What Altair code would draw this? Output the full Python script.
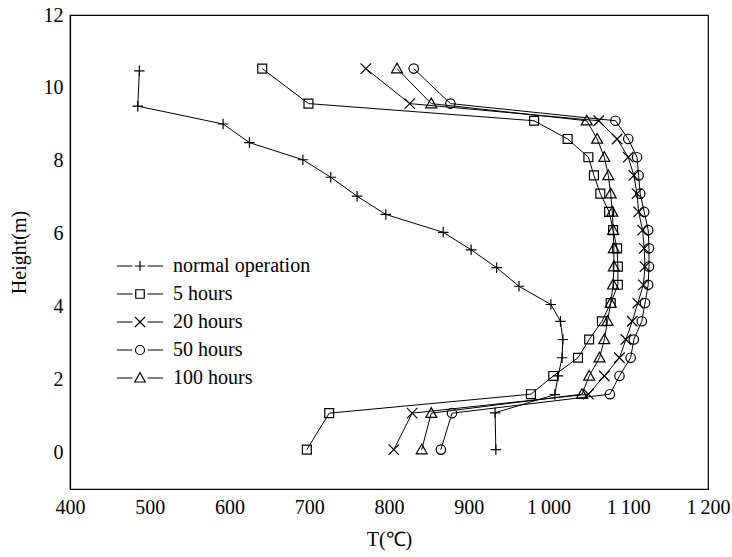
import altair as alt
import pandas as pd

series_names = ["normal operation", "5 hours", "20 hours", "50 hours", "100 hours"]

heights_normal = [0.08, 1.09, 1.59, 2.1, 2.6, 3.1, 3.6, 4.06, 4.56, 5.07, 5.56, 6.04, 6.53, 7.03, 7.55, 8.03, 8.5, 9.01, 9.5, 10.47]
heights_heated = [0.08, 1.08, 1.6, 2.1, 2.6, 3.1, 3.6, 4.1, 4.6, 5.1, 5.6, 6.1, 6.6, 7.1, 7.6, 8.1, 8.6, 9.1, 9.57, 10.53]

t_normal = [934, 933, 1008, 1012, 1017, 1018, 1015, 1003, 963, 935, 903, 868, 796, 760, 727, 692, 625, 592, 485, 487]
t_5h = [697, 725, 978, 1006, 1037, 1051, 1067, 1078, 1087, 1087, 1086, 1081, 1076, 1065, 1057, 1050, 1024, 982, 699, 641]
t_20h = [806, 829, 1050, 1070, 1089, 1097, 1105, 1112, 1119, 1121, 1120, 1118, 1113, 1111, 1107, 1100, 1086, 1063, 826, 771]
t_50h = [865, 879, 1077, 1089, 1103, 1107, 1117, 1121, 1125, 1126, 1126, 1125, 1120, 1115, 1113, 1111, 1100, 1084, 877, 831]
t_100h = [841, 853, 1042, 1051, 1064, 1070, 1074, 1078, 1081, 1082, 1082, 1081, 1080, 1078, 1075, 1070, 1061, 1048, 853, 810]

x_ticks = [400, 500, 600, 700, 800, 900, 1000, 1100, 1200]
y_ticks = [0, 2, 4, 6, 8, 10, 12]

rows = []
for name, temps in zip(series_names, [t_normal, t_5h, t_20h, t_50h, t_100h]):
    hs = heights_normal if name == "normal operation" else heights_heated
    for i, (t, h) in enumerate(zip(temps, hs)):
        rows.append({"series": name, "T": t, "H": h, "idx": i})
df = pd.DataFrame(rows)

# marker paths (unit box)
p_plus = "M-1,0L1,0M0,-1L0,1"
p_square = "M-0.85,-0.85L0.85,-0.85L0.85,0.85L-0.85,0.85Z"
p_cross = "M-1,-1L1,1M-1,1L1,-1"
p_circle = "M0.9,0A0.9,0.9,0,1,1,-0.9,0A0.9,0.9,0,1,1,0.9,0Z"
p_tri = "M0,-1.05L1.05,0.8L-1.05,0.8Z"
marker_paths = [p_plus, p_square, p_cross, p_circle, p_tri]
seg = "M-4.6,0L-1.5,0M1.5,0L4.6,0"
legend_paths = [seg + p for p in marker_paths]

FONT = "Liberation Serif"

x_enc = alt.X("T:Q", scale=alt.Scale(domain=[400, 1200], nice=False, zero=False),
              axis=alt.Axis(values=x_ticks, title="T(℃)", labelFlush=False,
                            labelExpr="datum.value >= 1000 ? '1\u2009' + format(datum.value - 1000, '03d') : datum.label"))
y_enc = alt.Y("H:Q", scale=alt.Scale(domain=[-1, 12], nice=False, zero=False),
              axis=alt.Axis(values=y_ticks, title="Height(m)", labelFlush=False))

base = alt.Chart(df)

lines = base.mark_line(color="black", strokeWidth=1).encode(
    x=x_enc, y=y_enc, detail="series:N", order=alt.Order("idx:Q"))

points = base.mark_point(filled=False, color="black", strokeWidth=1.2, size=110, opacity=1).encode(
    x=x_enc, y=y_enc,
    shape=alt.Shape("series:N", scale=alt.Scale(domain=series_names, range=marker_paths), legend=None))

legend_layer = base.transform_filter("false").mark_point(
    filled=False, color="black", strokeWidth=1.2, size=100, opacity=1).encode(
    x=x_enc, y=y_enc,
    shape=alt.Shape("series2:N", scale=alt.Scale(domain=series_names, range=legend_paths),
                    legend=alt.Legend(title=None, orient="none", legendX=60, legendY=241,
                                      labelFont=FONT, labelFontSize=20, labelColor="black",
                                      symbolSize=100, symbolStrokeColor="black", symbolStrokeWidth=1.2,
                                      symbolFillColor="transparent", symbolOpacity=1,
                                      labelOffset=23, rowPadding=8, padding=0, labelLimit=400)))

chart = alt.layer(lines, points, legend_layer).resolve_scale(shape="independent").properties(
    width=638, height=474,
    autosize=alt.AutoSizeParams(type="none"),
    padding={"left": 70, "top": 15, "right": 24, "bottom": 68},
    background="white",
).configure_view(stroke="black", strokeWidth=1.2).configure_axis(
    grid=False, ticks=False, domainColor="black", domainWidth=1.2,
    labelFont=FONT, labelFontSize=20, labelColor="black",
    titleFont=FONT, titleFontSize=20, titleColor="black", titleFontWeight="normal",
).configure_axisX(labelPadding=8, titlePadding=12).configure_axisY(labelPadding=7, titlePadding=14)

chart.save("out.html", embed_options={"renderer": "svg", "actions": False})
